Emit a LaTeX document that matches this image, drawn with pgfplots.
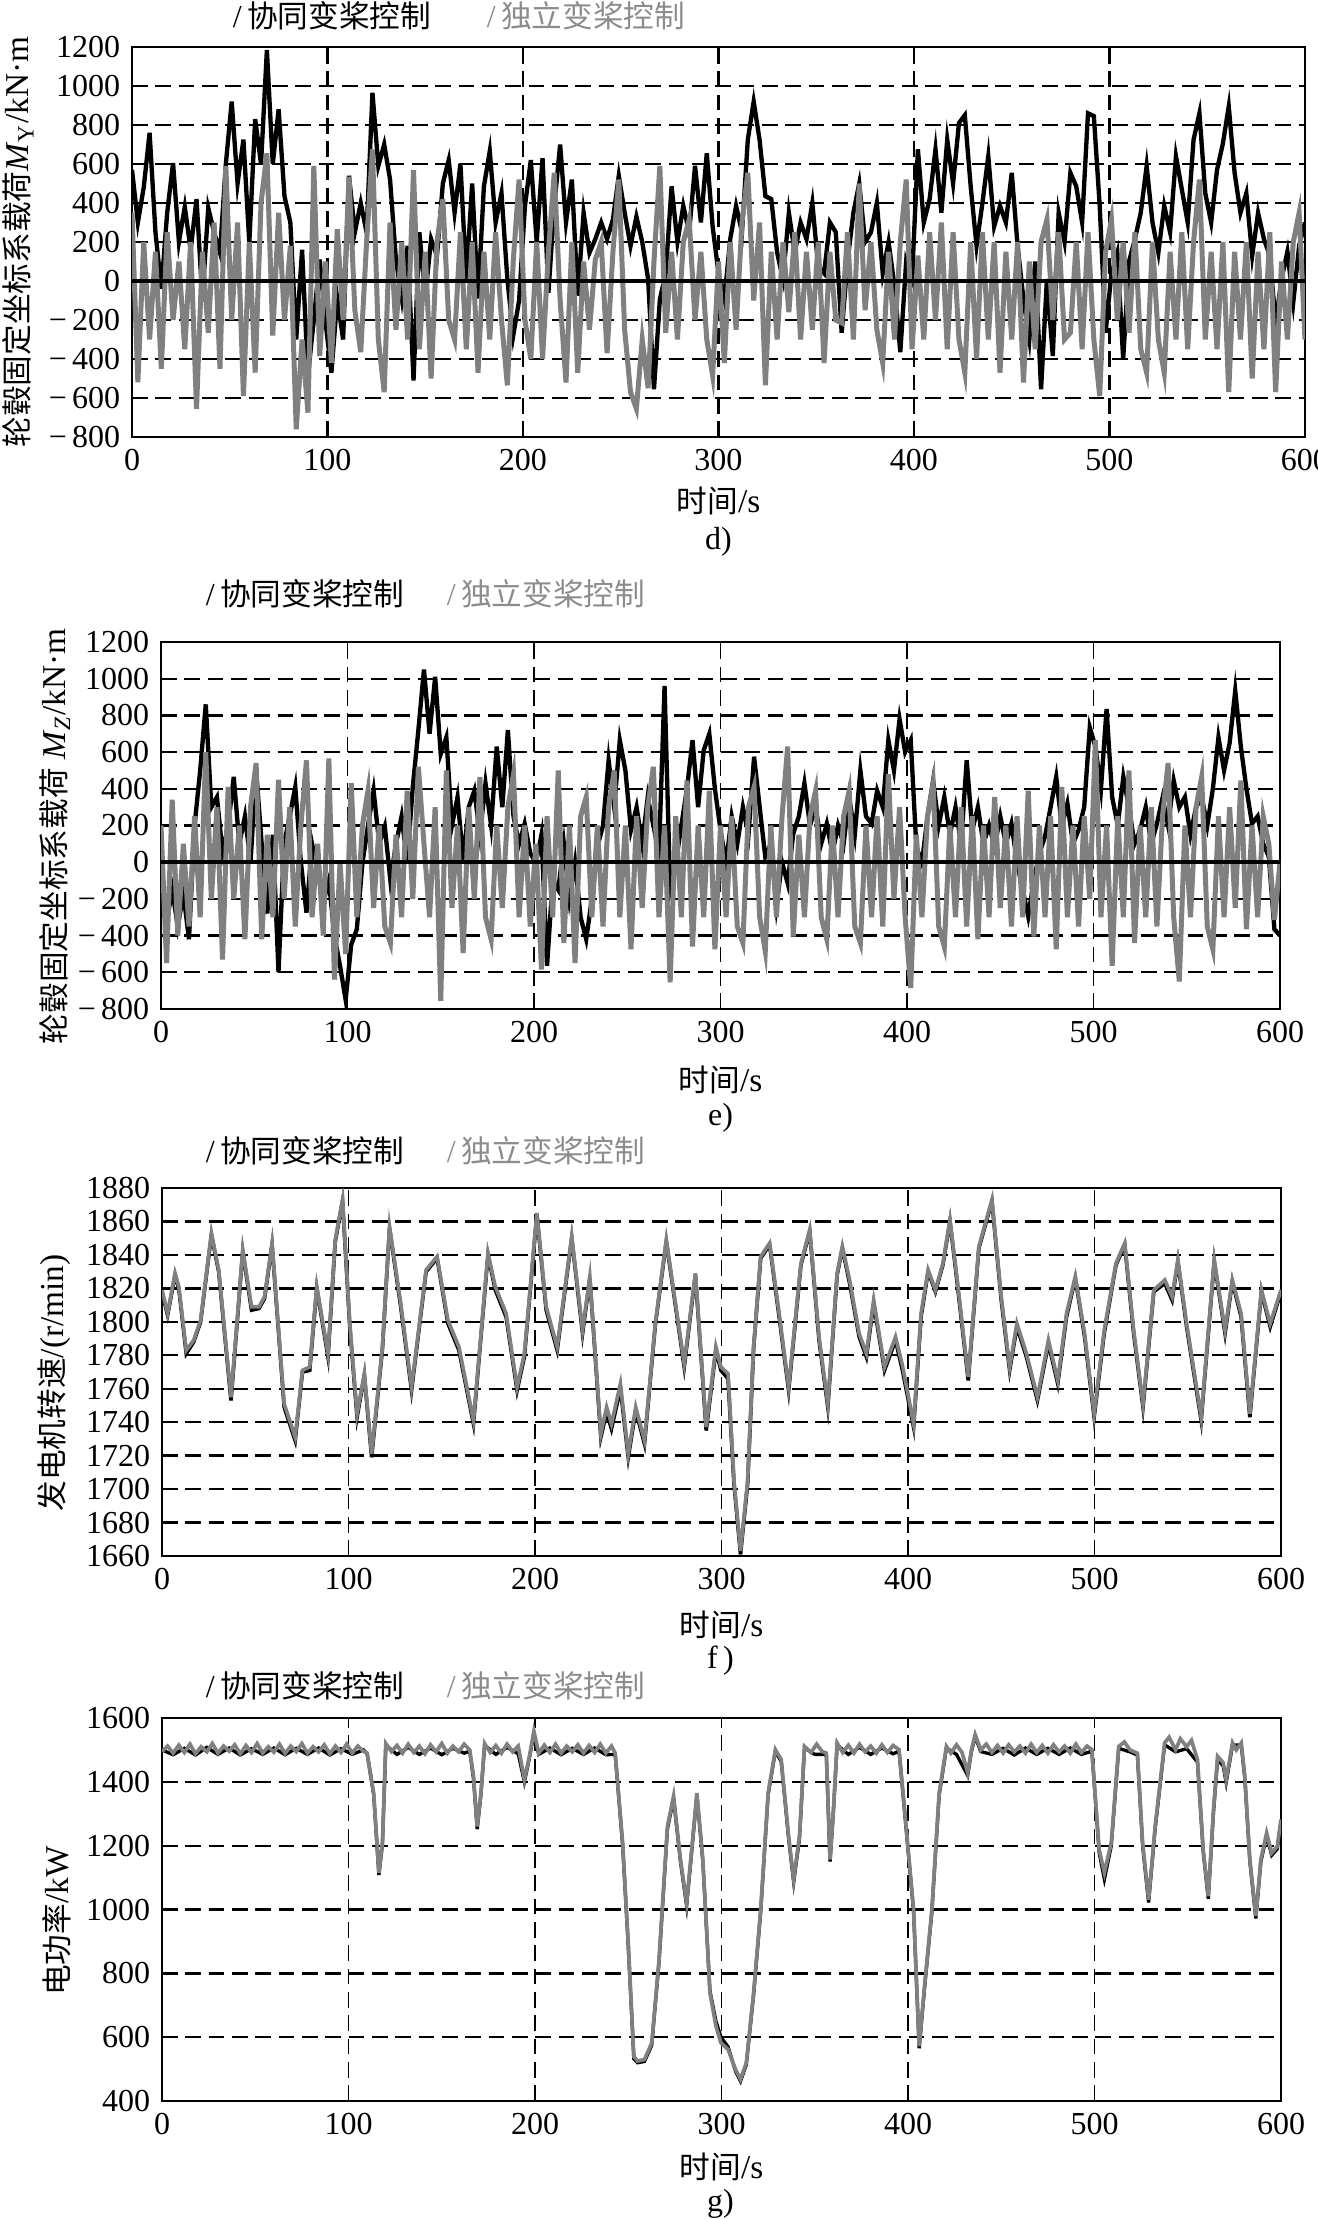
\documentclass[border=0pt]{standalone}
\usepackage{fontspec}
\setmainfont{Liberation Serif}
\newfontfamily\cjk{Noto Sans CJK SC}
\usepackage{pgfplots}
\pgfplotsset{compat=1.18}

\definecolor{ser}{gray}{0.5}
\definecolor{legg}{gray}{0.55}

\newcommand{\tfont}{\fontsize{9.6}{10}\selectfont}
\newcommand{\cfont}{\cjk\fontsize{9.2}{10}\selectfont}

\pgfplotsset{
  panel/.style={
    scale only axis,
    anchor=north west,
    xmin=0, xmax=600,
    enlargelimits=false,
    axis line style={line width=0.75pt},
    major tick length=0pt,
    grid=major,
    y grid style={dash pattern=on 4.7pt off 2.3pt, line width=0.7pt, black},
    x grid style={dash pattern=on 4.7pt off 2.3pt, line width=0.4pt, black},
    xtick={0,100,...,600},
    xticklabels={0,100,200,300,400,500,600},
    tick label style={font=\tfont},
    xlabel={{\cfont 时间}/s},
    ylabel style={anchor=center},
  },
  loadticks/.style={
    ymin=-800, ymax=1200,
    ytick={-800,-600,...,1200},
    yticklabels={−\,800,−\,600,−\,400,−\,200,0,200,400,600,800,1000,1200},
  },
}

\begin{document}
\begin{tikzpicture}
\path[use as bounding box] (0pt,0pt) rectangle (395.4pt,-665.7pt);

% ---------------- d) ----------------
\node[anchor=west,font=\tfont] at (66.3pt,-4.8pt) {/\,{\cfont 协同变桨控制}};
\node[anchor=west,font=\tfont,text=legg] at (142.5pt,-4.8pt) {/\,{\cfont 独立变桨控制}};
\begin{axis}[panel, loadticks,
  at={(39.6pt,-14.1pt)}, width=351.9pt, height=117pt,
  x grid style={dash pattern=on 4.7pt off 2.3pt, line width=0.7pt, black},
  xlabel style={at={(axis description cs:0.5,0)}, anchor=center, yshift=-19.2pt},
  ylabel style={at={(axis description cs:-0.097,0.5)}},
  ylabel={{\cfont 轮毂固定坐标系载荷}\textit{M}\textsubscript{Y}/kN·m}]
\addplot[black, line width=1.3pt] coordinates {
(0,570)(3,300)(6,480)(9,760)(12,250)(15,-40)(18,350)(21,605)(24,200)(27,380)(30,160)(33,420)(36,-90)(39,375)(42,250)(45,145)(48,600)(51,920)(54,500)(57,725)(60,195)(63,830)(66,600)(69,1185)(72,600)(75,880)(78,435)(81,300)(84,-300)(87,160)(90,-485)(93,-200)(96,110)(99,-210)(102,-470)(105,-90)(108,-300)(111,540)(114,250)(117,400)(120,250)(123,965)(126,590)(129,700)(132,520)(135,110)(138,-90)(141,180)(144,-510)(147,250)(150,-80)(153,215)(156,130)(159,500)(162,620)(165,350)(168,600)(171,10)(174,500)(177,-90)(180,485)(183,665)(186,300)(189,450)(192,10)(195,-280)(198,-100)(201,385)(204,620)(207,200)(210,630)(213,-60)(216,385)(219,700)(222,300)(225,520)(228,-75)(231,350)(234,145)(237,215)(240,300)(243,215)(246,315)(249,540)(252,350)(255,180)(258,330)(261,200)(264,10)(267,-555)(270,-95)(273,40)(276,485)(279,200)(282,385)(285,250)(288,590)(291,300)(294,655)(297,280)(300,40)(303,-95)(306,215)(309,385)(312,250)(315,725)(318,920)(321,725)(324,435)(327,420)(330,145)(333,10)(336,350)(339,145)(342,300)(345,215)(348,400)(351,75)(354,40)(357,300)(360,250)(363,-265)(366,100)(369,350)(372,500)(375,200)(378,250)(381,400)(384,40)(387,200)(390,-25)(393,-365)(396,100)(399,10)(402,675)(405,300)(408,420)(411,675)(414,350)(417,725)(420,500)(423,810)(426,850)(429,485)(432,180)(435,400)(438,640)(441,280)(444,385)(447,300)(450,555)(453,180)(456,-95)(459,-300)(462,100)(465,-555)(468,10)(471,-385)(474,350)(477,200)(480,555)(483,485)(486,300)(489,860)(492,845)(495,385)(498,-265)(501,40)(504,145)(507,-400)(510,100)(513,215)(516,350)(519,590)(522,300)(525,145)(528,385)(531,250)(534,640)(537,470)(540,300)(543,725)(546,860)(549,450)(552,300)(555,570)(558,705)(561,895)(564,555)(567,350)(570,450)(573,130)(576,350)(579,215)(582,130)(585,-215)(588,10)(591,150)(594,-110)(597,180)(600,300)
};
\addplot[ser, line width=1.5pt] coordinates {
(0,350)(3,-520)(6,200)(9,-300)(12,150)(15,-450)(18,250)(21,-200)(24,100)(27,-350)(30,200)(33,-655)(36,150)(39,-265)(42,300)(45,-450)(48,590)(51,-200)(54,300)(57,-590)(60,200)(63,-470)(66,400)(69,655)(72,-280)(75,350)(78,-200)(81,180)(84,-760)(87,-300)(90,-675)(93,590)(96,-385)(99,100)(102,-420)(105,265)(108,-200)(111,535)(114,-150)(117,-365)(120,200)(123,675)(126,-300)(129,-570)(132,300)(135,-250)(138,200)(141,-300)(144,570)(147,-350)(150,150)(153,-500)(156,200)(159,420)(162,-200)(165,-300)(168,250)(171,-350)(174,200)(177,-470)(180,150)(183,-300)(186,250)(189,-200)(192,-535)(195,100)(198,520)(201,-200)(204,-400)(207,200)(210,-400)(213,150)(216,555)(219,-100)(222,-520)(225,200)(228,-470)(231,100)(234,-250)(237,110)(240,200)(243,-370)(246,150)(249,520)(252,-250)(255,-570)(258,-655)(261,-300)(264,-550)(267,100)(270,590)(273,-265)(276,150)(279,-300)(282,200)(285,315)(288,-200)(291,150)(294,-300)(297,-485)(300,100)(303,-420)(306,200)(309,-250)(312,300)(315,555)(318,-100)(321,300)(324,-535)(327,150)(330,-300)(333,200)(336,-160)(339,250)(342,-300)(345,150)(348,-250)(351,200)(354,-420)(357,150)(360,-200)(363,-215)(366,250)(369,-300)(372,500)(375,-150)(378,200)(381,-250)(384,-420)(387,150)(390,-300)(393,200)(396,520)(399,-350)(402,130)(405,-300)(408,250)(411,-200)(414,300)(417,-350)(420,250)(423,-300)(426,-470)(429,200)(432,-400)(435,250)(438,-300)(441,200)(444,-470)(447,150)(450,-300)(453,200)(456,-520)(459,100)(462,-350)(465,200)(468,315)(471,-200)(474,250)(477,-300)(480,-265)(483,200)(486,-350)(489,250)(492,-300)(495,-590)(498,150)(501,315)(504,-200)(507,200)(510,-265)(513,250)(516,-350)(519,-470)(522,200)(525,-300)(528,-470)(531,150)(534,-300)(537,250)(540,-350)(543,200)(546,520)(549,-300)(552,150)(555,-350)(558,200)(561,-570)(564,150)(567,-300)(570,200)(573,-500)(576,150)(579,-350)(582,250)(585,-570)(588,100)(591,-300)(594,200)(597,350)(600,-300)
};
\addplot[black, line width=1.2pt] coordinates {(0,0) (600,0)};
\end{axis}
\node[font=\tfont] at (215.55pt,-162.6pt) {d)};

% ---------------- e) ----------------
\node[anchor=west,font=\tfont] at (58.2pt,-178.2pt) {/\,{\cfont 协同变桨控制}};
\node[anchor=west,font=\tfont,text=legg] at (130.5pt,-178.2pt) {/\,{\cfont 独立变桨控制}};
\begin{axis}[panel, loadticks,
  at={(48.3pt,-192.6pt)}, width=335.7pt, height=110.1pt,
  xlabel style={at={(axis description cs:0.5,0)}, anchor=center, yshift=-21.3pt},
  ylabel style={at={(axis description cs:-0.095,0.47)}},
  ylabel={{\cfont 轮毂固定坐标系载荷} \textit{M}\textsubscript{\textit{Z}}/kN·m}]
\addplot[black, line width=1.3pt] coordinates {
(0,-200)(3,-330)(6,-150)(9,-350)(12,-170)(15,-420)(18,200)(21,500)(24,860)(27,300)(30,355)(33,50)(36,200)(39,465)(42,100)(45,250)(48,0)(51,500)(54,100)(57,-280)(60,150)(63,-600)(66,100)(69,250)(72,410)(75,0)(78,-275)(81,100)(84,-50)(87,-220)(90,-100)(93,-400)(96,-565)(99,-750)(102,-450)(105,-365)(108,-5)(111,200)(114,390)(117,100)(120,195)(123,-100)(126,100)(129,250)(132,0)(135,410)(138,720)(141,1050)(144,700)(147,1010)(150,590)(153,680)(156,200)(159,355)(162,10)(165,300)(168,390)(171,150)(174,430)(177,200)(180,630)(183,300)(186,720)(189,250)(192,100)(195,210)(198,50)(201,-5)(204,150)(207,-565)(210,-100)(213,-150)(216,100)(219,-200)(222,0)(225,-300)(228,-420)(231,-200)(234,85)(237,200)(240,555)(243,300)(246,665)(249,500)(252,175)(255,300)(258,100)(261,355)(264,200)(267,50)(270,960)(273,-150)(276,-5)(279,200)(282,400)(285,665)(288,300)(291,610)(294,700)(297,400)(300,175)(303,-5)(306,250)(309,100)(312,300)(315,150)(318,575)(321,300)(324,30)(327,100)(330,-240)(333,0)(336,-115)(339,155)(342,250)(345,430)(348,200)(351,300)(354,100)(357,210)(360,50)(363,200)(366,100)(369,355)(372,150)(375,500)(378,250)(381,210)(384,390)(387,300)(390,665)(393,500)(396,780)(399,600)(402,665)(405,85)(408,-5)(411,250)(414,445)(417,200)(420,355)(423,150)(426,300)(429,100)(432,555)(435,175)(438,300)(441,100)(444,200)(447,85)(450,250)(453,100)(456,210)(459,0)(462,-150)(465,-295)(468,-100)(471,50)(474,140)(477,300)(480,465)(483,200)(486,320)(489,100)(492,175)(495,300)(498,735)(501,630)(504,400)(507,835)(510,355)(513,200)(516,465)(519,300)(522,100)(525,175)(528,300)(531,100)(534,210)(537,350)(540,200)(543,445)(546,300)(549,355)(552,150)(555,300)(558,355)(561,200)(564,400)(567,680)(570,500)(573,650)(576,935)(579,630)(582,400)(585,210)(588,250)(591,100)(594,30)(597,-365)(600,-400)
};
\addplot[ser, line width=1.5pt] coordinates {
(0,200)(3,-550)(6,340)(9,-400)(12,100)(15,-350)(18,250)(21,-300)(24,600)(27,-200)(30,300)(33,-530)(36,410)(39,-200)(42,200)(45,-420)(48,300)(51,540)(54,-420)(57,150)(60,-300)(63,450)(66,-200)(69,300)(72,-350)(75,200)(78,555)(81,-300)(84,100)(87,-400)(90,565)(93,-640)(96,0)(99,-500)(102,430)(105,-300)(108,200)(111,390)(114,-250)(117,200)(120,-350)(123,-440)(126,150)(129,-300)(132,390)(135,-200)(138,520)(141,100)(144,-300)(147,300)(150,-755)(153,500)(156,-250)(159,200)(162,-495)(165,300)(168,-200)(171,465)(174,-300)(177,-420)(180,200)(183,-250)(186,300)(189,480)(192,-300)(195,200)(198,-350)(201,100)(204,-585)(207,250)(210,-300)(213,500)(216,-440)(219,200)(222,-550)(225,250)(228,355)(231,-300)(234,200)(237,-350)(240,300)(243,500)(246,-300)(249,200)(252,-475)(255,250)(258,-250)(261,300)(264,520)(267,-300)(270,200)(273,-655)(276,250)(279,-300)(282,445)(285,-460)(288,200)(291,-300)(294,390)(297,-475)(300,200)(303,-300)(306,250)(309,-350)(312,-440)(315,300)(318,410)(321,-300)(324,-485)(327,200)(330,-300)(333,250)(336,630)(339,-405)(342,150)(345,-300)(348,250)(351,390)(354,-300)(357,-420)(360,200)(363,-300)(366,250)(369,390)(372,-350)(375,-440)(378,200)(381,-300)(384,250)(387,-350)(390,480)(393,-200)(396,300)(399,-300)(402,-685)(405,150)(408,-300)(411,250)(414,430)(417,-350)(420,-460)(423,200)(426,-300)(429,300)(432,-350)(435,250)(438,-420)(441,200)(444,-300)(447,355)(450,-250)(453,200)(456,-350)(459,250)(462,-300)(465,390)(468,-405)(471,200)(474,-300)(477,250)(480,-475)(483,410)(486,-300)(489,200)(492,-350)(495,250)(498,-200)(501,665)(504,-300)(507,200)(510,-565)(513,250)(516,-300)(519,500)(522,-440)(525,200)(528,-300)(531,300)(534,-350)(537,250)(540,540)(543,-300)(546,-650)(549,200)(552,-300)(555,300)(558,465)(561,-350)(564,-475)(567,250)(570,-300)(573,300)(576,-250)(579,445)(582,-365)(585,200)(588,-300)(591,250)(594,100)(597,-315)(600,0)
};
\addplot[black, line width=1.2pt] coordinates {(0,0) (600,0)};
\end{axis}
\node[font=\tfont] at (216.15pt,-335.4pt) {e)};

% ---------------- f) ----------------
\node[anchor=west,font=\tfont] at (58.2pt,-345.3pt) {/\,{\cfont 协同变桨控制}};
\node[anchor=west,font=\tfont,text=legg] at (130.5pt,-345.3pt) {/\,{\cfont 独立变桨控制}};
\begin{axis}[panel,
  at={(48.6pt,-356.4pt)}, width=335.7pt, height=110.4pt,
  ymin=1660, ymax=1880, ytick={1660,1680,...,1880},
  yticklabels={1660,1680,1700,1720,1740,1760,1780,1800,1820,1840,1860,1880},
  xlabel style={at={(axis description cs:0.5,0)}, anchor=center, yshift=-20.7pt},
  ylabel style={at={(axis description cs:-0.096,0.47)}},
  ylabel={{\cfont 发电机转速}/(r/min)}]
\addplot[black, line width=1.1pt] coordinates {
(0,1818)(3,1804)(7,1828)(9,1820)(13,1781)(17,1788)(20.7,1800)(26.5,1852)(30.4,1830)(37,1753)(43.3,1842)(48,1807)(52,1808)(55,1814)(59,1846)(65.5,1749)(71.4,1729)(75.3,1770)(79.2,1771)(83,1820)(89,1779)(92.9,1848)(96.8,1872)(100.7,1797)(104.6,1743)(108.5,1768)(112.4,1719)(118.2,1784)(122,1856)(128,1809)(133.8,1759)(141.6,1830)(147.5,1838)(153.3,1799)(159.2,1783)(167,1739)(174.8,1840)(178.7,1819)(184.5,1803)(190.4,1759)(194.3,1779)(201,1864)(206,1807)(211.9,1783)(219.7,1850)(225.5,1793)(229.4,1826)(235.3,1731)(238.4,1746)(241,1736)(245.8,1760)(250,1719)(254,1747)(258.7,1727)(264.5,1798)(270.4,1848)(280,1773)(286,1828)(291.8,1735)(297,1783)(299.7,1771)(303.5,1766)(306.7,1703)(310.2,1661)(314,1703)(317.2,1784)(321,1838)(325.8,1846)(330.9,1803)(336,1759)(342.6,1834)(347.3,1854)(352.3,1789)(357,1749)(362,1828)(364.8,1844)(368.7,1823)(373.8,1791)(377.7,1779)(381.6,1811)(387.4,1771)(393.3,1789)(397.2,1770)(403,1737)(407,1803)(410.8,1830)(414.7,1818)(418.7,1834)(422.5,1860)(426.4,1823)(432.3,1765)(438,1844)(445,1872)(450,1813)(454.5,1771)(458.4,1797)(463.5,1779)(469.4,1753)(475.3,1787)(480.3,1763)(485,1803)(489.7,1826)(494.7,1791)(499.8,1743)(505.2,1793)(511.5,1834)(516.2,1846)(521,1793)(526,1749)(531.8,1818)(537.7,1823)(541.6,1813)(544.7,1836)(549.4,1797)(557.2,1741)(564.2,1836)(570,1793)(573.9,1824)(578.6,1803)(583.3,1743)(589.5,1818)(594.2,1797)(600,1818)
};
\addplot[ser, line width=1.1pt] coordinates {
(0,1819)(3,1805)(7,1829)(9,1821)(13,1783)(17,1789)(20.7,1801)(26.5,1853)(30.4,1831)(37,1755)(43.3,1843)(48,1809)(52,1809)(55,1815)(59,1847)(65.5,1751)(71.4,1731)(75.3,1771)(79.2,1773)(83,1821)(89,1781)(92.9,1849)(96.8,1873)(100.7,1799)(104.6,1745)(108.5,1769)(112.4,1721)(118.2,1785)(122,1857)(128,1811)(133.8,1761)(141.6,1831)(147.5,1839)(153.3,1801)(159.2,1785)(167,1741)(174.8,1841)(178.7,1821)(184.5,1805)(190.4,1761)(194.3,1781)(201,1865)(206,1809)(211.9,1785)(219.7,1851)(225.5,1795)(229.4,1827)(235.3,1733)(238.4,1749)(241,1739)(245.8,1763)(250,1721)(254,1749)(258.7,1729)(264.5,1799)(270.4,1849)(280,1775)(286,1829)(291.8,1737)(297,1785)(299.7,1773)(303.5,1769)(306.7,1705)(310.2,1663)(314,1705)(317.2,1785)(321,1839)(325.8,1847)(330.9,1805)(336,1761)(342.6,1835)(347.3,1855)(352.3,1791)(357,1751)(362,1829)(364.8,1845)(368.7,1825)(373.8,1793)(377.7,1781)(381.6,1813)(387.4,1773)(393.3,1791)(397.2,1773)(403,1739)(407,1805)(410.8,1831)(414.7,1819)(418.7,1835)(422.5,1861)(426.4,1825)(432.3,1767)(438,1845)(445,1873)(450,1815)(454.5,1773)(458.4,1799)(463.5,1781)(469.4,1755)(475.3,1789)(480.3,1765)(485,1805)(489.7,1827)(494.7,1793)(499.8,1745)(505.2,1795)(511.5,1835)(516.2,1847)(521,1795)(526,1751)(531.8,1819)(537.7,1825)(541.6,1815)(544.7,1837)(549.4,1799)(557.2,1743)(564.2,1837)(570,1795)(573.9,1825)(578.6,1805)(583.3,1745)(589.5,1819)(594.2,1799)(600,1819)
};
\end{axis}
\node[font=\tfont] at (216.15pt,-498.3pt) {f\,)};

% ---------------- g) ----------------
\node[anchor=west,font=\tfont] at (58.2pt,-505.8pt) {/\,{\cfont 协同变桨控制}};
\node[anchor=west,font=\tfont,text=legg] at (130.5pt,-505.8pt) {/\,{\cfont 独立变桨控制}};
\begin{axis}[panel,
  at={(48.6pt,-515.4pt)}, width=335.7pt, height=114.9pt,
  ymin=400, ymax=1600, ytick={400,600,...,1600},
  yticklabels={400,600,800,1000,1200,1400,1600},
  xlabel style={at={(axis description cs:0.5,0)}, anchor=center, yshift=-19.8pt},
  ylabel style={at={(axis description cs:-0.094,0.47)}},
  ylabel={{\cfont 电功率}/kW}]
\addplot[black, line width=1pt] coordinates {
(0,1500)(6,1485)(12,1505)(18,1484)(24,1508)(30,1486)(36,1506)(42,1484)(48,1504)(54,1486)(60,1506)(66,1485)(72,1505)(78,1486)(84,1506)(90,1484)(96,1504)(102,1486)(108,1500)(110,1488)(113.5,1360)(116.3,1108)(118.2,1205)(120,1515)(126,1486)(132,1508)(138,1486)(144,1506)(150,1485)(156,1505)(162,1490)(165,1496)(167,1412)(169,1252)(171,1360)(173,1515)(179,1486)(185,1508)(191,1488)(194.3,1400)(197,1475)(199.4,1552)(202,1486)(208,1506)(214,1485)(220,1505)(226,1486)(232,1506)(238,1485)(243,1486)(247,1200)(250,885)(253,532)(255,520)(258.7,524)(262.6,575)(266.5,835)(271,1252)(274.3,1348)(278,1150)(281.3,1012)(284,1180)(286.8,1358)(290,1150)(293.8,745)(297,650)(299.7,600)(303.5,570)(307.5,494)(310.2,462)(313.3,514)(317.2,732)(321,992)(325,1360)(328.9,1496)(332,1464)(336,1222)(338.7,1086)(341.8,1222)(344.5,1506)(350,1486)(356.2,1486)(358.2,1150)(360,1306)(362,1516)(368,1486)(374,1508)(380,1486)(386,1506)(392,1488)(395.2,1496)(399,1252)(403,992)(406,565)(409,762)(412.8,992)(416.7,1358)(420.6,1506)(426,1486)(432,1420)(434,1495)(436,1542)(439,1495)(445,1486)(451,1505)(457,1484)(463,1506)(469,1486)(475,1505)(481,1486)(487,1506)(493,1486)(498.6,1496)(502.5,1178)(505.3,1095)(509,1200)(513,1505)(519,1494)(523,1484)(525.8,1200)(529,1022)(532.5,1252)(537.6,1516)(543.5,1494)(549.4,1504)(555.2,1462)(558.3,1180)(561,1034)(563.8,1305)(566,1470)(569,1450)(570.6,1398)(574,1515)(578.7,1515)(580.6,1410)(583.3,1150)(586.5,972)(589.2,1150)(592.3,1232)(595,1170)(598,1190)(600,1275)
};
\addplot[ser, line width=1.1pt] coordinates {
(0,1495)(3,1512)(6,1490)(9,1515)(12,1492)(15,1518)(18,1488)(21,1510)(24,1494)(27,1520)(30,1490)(33,1512)(36,1496)(39,1516)(42,1488)(45,1514)(48,1492)(51,1520)(54,1490)(57,1510)(60,1493)(63,1518)(66,1489)(69,1512)(72,1495)(75,1520)(78,1490)(81,1510)(84,1494)(87,1516)(90,1488)(93,1512)(96,1492)(99,1518)(102,1490)(105,1512)(108,1496)(110,1490)(113.5,1365)(116.3,1115)(118.2,1210)(120,1520)(123,1495)(126,1514)(129,1490)(132,1518)(135,1492)(138,1512)(141,1488)(144,1516)(147,1494)(150,1520)(153,1490)(156,1512)(159,1494)(162,1518)(165,1500)(167,1420)(169,1260)(171,1365)(173,1520)(176,1492)(179,1514)(182,1490)(185,1518)(188,1494)(191,1512)(194.3,1407)(197,1480)(199.4,1558)(202,1490)(205,1515)(208,1492)(211,1518)(214,1490)(217,1512)(220,1494)(223,1516)(226,1490)(229,1514)(232,1492)(235,1518)(238,1490)(241,1512)(243,1490)(247,1210)(250,895)(253,540)(255,525)(258.7,530)(262.6,582)(266.5,843)(271,1260)(274.3,1355)(278,1157)(281.3,1021)(284,1188)(286.8,1365)(290,1157)(293.8,739)(297,635)(299.7,582)(303.5,562)(307.5,499)(310.2,468)(313.3,520)(317.2,739)(321,1000)(325,1365)(328.9,1501)(332,1470)(336,1230)(338.7,1094)(341.8,1230)(344.5,1511)(348,1492)(351,1518)(354,1495)(356.2,1490)(358.2,1157)(360,1313)(362,1522)(365,1492)(368,1515)(371,1490)(374,1518)(377,1494)(380,1512)(383,1490)(386,1516)(389,1492)(392,1514)(395.2,1501)(399,1260)(403,1000)(406,572)(409,770)(412.8,1000)(416.7,1365)(420.6,1511)(423,1490)(426,1516)(429,1492)(432,1428)(434,1500)(436,1548)(439,1500)(442,1518)(445,1492)(448,1514)(451,1490)(454,1516)(457,1494)(460,1512)(463,1490)(466,1518)(469,1492)(472,1514)(475,1490)(478,1516)(481,1494)(484,1512)(487,1490)(490,1518)(493,1492)(496,1512)(498.6,1501)(502.5,1188)(505.3,1115)(509,1210)(513,1511)(516,1525)(519,1500)(523,1490)(525.8,1210)(529,1031)(532.5,1260)(537.6,1522)(540,1540)(543.5,1500)(546,1535)(549.4,1510)(552,1530)(555.2,1470)(558.3,1188)(561,1042)(563.8,1313)(566,1480)(569,1460)(570.6,1407)(574,1522)(576,1500)(578.7,1522)(580.6,1418)(583.3,1157)(586.5,980)(589.2,1157)(592.3,1240)(595,1177)(598,1198)(600,1282)
};
\end{axis}
\node[font=\tfont] at (216.15pt,-661.2pt) {g)};
\end{tikzpicture}
\end{document}
